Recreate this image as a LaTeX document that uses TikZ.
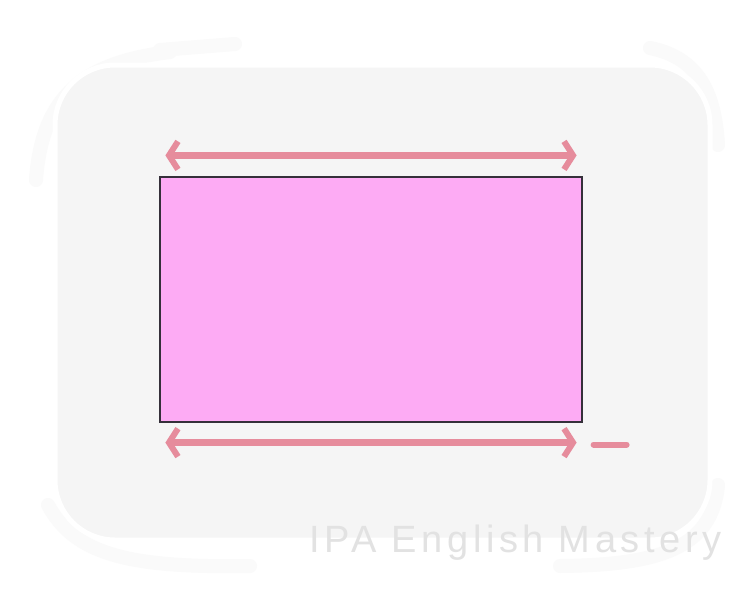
\documentclass[tikz,border=0pt]{standalone}
\usepackage{fontspec}
\setmainfont{Liberation Sans}
\usepackage{xcolor}
\usetikzlibrary{calc,arrows.meta,positioning}
\definecolor{arrowx}{HTML}{E68C9C}
\definecolor{rectx}{HTML}{FDABF4}
\definecolor{edgex}{HTML}{35303A}
\definecolor{softbg}{HTML}{F5F5F5}
\definecolor{faintbg}{HTML}{FAFAFA}
\definecolor{markx}{HTML}{E2E2E2}
\tikzset{
  ar/.style={{Straight Barb[length=9pt,width=28pt,line width=6pt]}-{Straight Barb[length=9pt,width=28pt,line width=6pt]},line width=6.5pt,line cap=round,arrowx},
  box/.style={draw=edgex,line width=1.2pt,fill=rectx,minimum width=422pt,minimum height=245pt,inner sep=0pt},
  smudge/.style={faintbg,line width=14pt,line cap=round}
}
\begin{document}
\begin{tikzpicture}[x=1pt,y=-1pt]
\fill[white] (0,0) rectangle (750,600);
\useasboundingbox (0,0) rectangle (750,600);
% hand-drawn backdrop
\draw[smudge] (36,180) .. controls (42,95) and (85,62) .. (170,52);
\draw[smudge] (160,50) -- (235,44);
\draw[smudge] (48,505) .. controls (75,555) and (130,568) .. (250,566);
\draw[smudge] (650,48) .. controls (700,58) and (715,95) .. (718,145);
\draw[smudge] (718,485) .. controls (712,548) and (660,565) .. (560,566);
\fill[softbg,draw=white,line width=5pt,rounded corners=60pt] (55,65) rectangle (710,540);
\node[box] (rect) at (371,299.5) {};
\coordinate (tl) at ($(rect.north west)+(6,-21)$);
\coordinate (tr) at ($(rect.north east)+(-6,-21)$);
\coordinate (bl) at ($(rect.south west)+(6,20)$);
\coordinate (br) at ($(rect.south east)+(-6,20)$);
\draw[ar] (tl) -- (tr);
\draw[ar] (bl) -- (br);
\coordinate (d1) at ($(br)+(17,2)$);
\coordinate (d2) at ($(br)+(50,2)$);
\draw[arrowx,line width=6pt,line cap=round] (d1) -- (d2);
\node[font=\fontsize{38}{40}\selectfont\addfontfeature{LetterSpace=12},text=markx,anchor=base west,inner sep=0pt] (mark) at (309,552) {IPA English Mastery};
\end{tikzpicture}
\end{document}
